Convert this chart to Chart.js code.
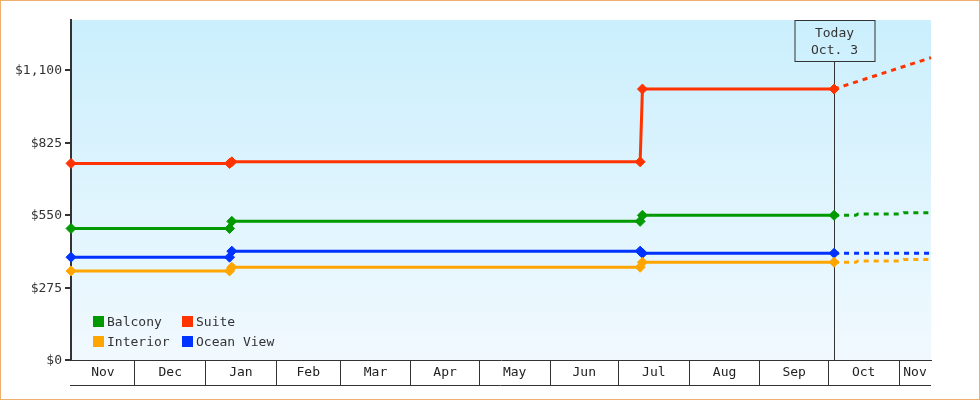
<!DOCTYPE html>
<html>
<head>
<meta charset="utf-8">
<title>Cabin prices</title>
<script src="https://cdn.jsdelivr.net/npm/chart.js@4.4.1/dist/chart.umd.min.js"></script>
<style>
  html, body { margin: 0; padding: 0; background: #fff; }
  #frame { width: 980px; height: 400px; box-sizing: border-box; border: 1px solid #efb06e; }
  canvas { display: block; }
</style>
</head>
<body>
<div id="frame"><canvas id="chart" width="978" height="398"></canvas></div>
<script>
// ---- data ----
const startDate = '2014-11-03';
const endDate = '2015-11-15';
const todayDate = '2015-10-03T12:00';
const todayLines = ['Today', 'Oct. 3'];

const monthLabels = ['Nov', 'Dec', 'Jan', 'Feb', 'Mar', 'Apr', 'May', 'Jun', 'Jul', 'Aug', 'Sep', 'Oct', 'Nov'];
const priceTicks = [0, 275, 550, 825, 1100];
const priceMax = 1290;

// recorded fares (solid part, ends today)
const historyDates = ['2014-11-03', '2015-01-11T12:00', '2015-01-12T12:00', '2015-07-10T12:00', '2015-07-11T12:00', '2015-10-03T12:00'];
const balconyHistory   = [499, 499, 526, 526, 549, 549];
const suiteHistory     = [746, 746, 752, 752, 1028, 1028];
const interiorHistory  = [338, 338, 352, 352, 371, 371];
const oceanViewHistory = [390, 390, 413, 413, 405, 405];

// projected fares (dashed part, after today)
const forecastDates = ['2015-10-13', '2015-10-14', '2015-11-02', '2015-11-03', '2015-11-15'];
const balconyForecast   = [549, 554, 554, 559, 559];
const interiorForecast  = [371, 376, 376, 381, 381];
const oceanViewForecast = [405, 405, 405, 405, 405];
const suiteForecastDates = ['2015-11-15'];
const suiteForecast = [1147];

const seriesNames  = ['Balcony', 'Suite', 'Interior', 'Ocean View'];
const seriesColors = ['#009900', '#ff3300', '#ffa500', '#0033ff'];

// ---- helpers ----
const DAY_MS = 86400000;
const startMs = Date.parse(startDate + 'T00:00:00Z');
function toDay(s) {
  const iso = s.length > 10 ? s + ':00Z' : s + 'T00:00:00Z';
  return (Date.parse(iso) - startMs) / DAY_MS;
}
const endDay = toDay(endDate);
const todayDay = toDay(todayDate);

// month boundaries and label positions (middle of each visible month)
const startD = new Date(startMs);
const monthBounds = [];
for (let i = 1; i < monthLabels.length; i++) {
  monthBounds.push((Date.UTC(startD.getUTCFullYear(), startD.getUTCMonth() + i, 1) - startMs) / DAY_MS);
}
const monthEdges = [0, ...monthBounds, endDay];
const monthMids = monthLabels.map((_, i) => (monthEdges[i] + monthEdges[i + 1]) / 2);

function points(dates, values) {
  return dates.map((d, i) => ({ x: toDay(d), y: values[i] }));
}

const seriesData = [
  points(historyDates.concat(forecastDates), balconyHistory.concat(balconyForecast)),
  points(historyDates.concat(suiteForecastDates), suiteHistory.concat(suiteForecast)),
  points(historyDates.concat(forecastDates), interiorHistory.concat(interiorForecast)),
  points(historyDates.concat(forecastDates), oceanViewHistory.concat(oceanViewForecast)),
];

const FONT = '"DejaVu Sans Mono", monospace';
const INK = '#333';

// ---- plugins ----
const plotBackground = {
  id: 'plotBackground',
  beforeDraw(chart) {
    const { ctx, chartArea: a } = chart;
    const g = ctx.createLinearGradient(0, a.top, 0, a.bottom);
    g.addColorStop(0, '#cbeffd');
    g.addColorStop(1, '#f1f9fe');
    ctx.save();
    ctx.fillStyle = g;
    ctx.fillRect(a.left, a.top, a.right - a.left, a.bottom - a.top);
    ctx.restore();
  }
};

const monthBand = {
  id: 'monthBand',
  afterDraw(chart) {
    const { ctx, chartArea: a } = chart;
    const xs = chart.scales.x;
    const y = Math.round(xs.top + xs.options.grid.tickLength) + 0.5;
    ctx.save();
    ctx.strokeStyle = INK;
    ctx.lineWidth = 1;
    ctx.beginPath();
    ctx.moveTo(a.left - 1, y);
    ctx.lineTo(a.right, y);
    ctx.stroke();
    ctx.restore();
  }
};

const todayMarker = {
  id: 'todayMarker',
  beforeDatasetsDraw(chart) {
    const { ctx, chartArea: a } = chart;
    const x = Math.round(chart.scales.x.getPixelForValue(todayDay)) + 0.5;
    const boxW = 80, boxH = 41;
    const top = a.top + 0.5;
    ctx.save();
    ctx.strokeStyle = INK;
    ctx.lineWidth = 1;
    ctx.beginPath();
    ctx.moveTo(x, top + boxH);
    ctx.lineTo(x, a.bottom);
    ctx.stroke();
    ctx.strokeRect(Math.round(x - boxW / 2), top, boxW, boxH);
    ctx.fillStyle = INK;
    ctx.font = '13px ' + FONT;
    ctx.textAlign = 'center';
    ctx.textBaseline = 'middle';
    ctx.fillText(todayLines[0], x, a.top + 14);
    ctx.fillText(todayLines[1], x, a.top + 31);
    ctx.restore();
  }
};

const cornerLegend = {
  id: 'cornerLegend',
  afterDraw(chart) {
    const { ctx, chartArea: a } = chart;
    ctx.save();
    ctx.font = '13px ' + FONT;
    ctx.textBaseline = 'middle';
    ctx.textAlign = 'left';
    const box = 11;
    const colX = [a.left + 22, a.left + 111];
    const rowY = [a.bottom - 44, a.bottom - 24];
    chart.data.datasets.forEach((ds, i) => {
      const bx = colX[i % 2], by = rowY[Math.floor(i / 2)];
      ctx.fillStyle = ds.borderColor;
      ctx.fillRect(bx, by, box, box);
      ctx.fillStyle = INK;
      ctx.fillText(ds.label, bx + box + 3, by + box / 2 + 1);
    });
    ctx.restore();
  }
};

// ---- chart ----
Chart.defaults.font.family = FONT;
Chart.defaults.font.size = 13;
Chart.defaults.color = INK;

new Chart(document.getElementById('chart'), {
  type: 'line',
  data: {
    datasets: seriesNames.map((name, i) => ({
      label: name,
      data: seriesData[i],
      borderColor: seriesColors[i],
      backgroundColor: seriesColors[i],
      borderWidth: 3,
      fill: false,
      tension: 0,
      clip: false,
      pointStyle: 'rectRot',
      pointRadius: ctx => (ctx.parsed && ctx.parsed.x > todayDay + 1e-6 ? 0 : 5),
      pointBorderWidth: 1,
      pointBorderColor: seriesColors[i],
      pointBackgroundColor: seriesColors[i],
      segment: {
        borderDash: ctx => (ctx.p0.parsed.x >= todayDay - 1e-6 ? [5, 5] : undefined)
      }
    }))
  },
  options: {
    responsive: false,
    animation: false,
    events: [],
    layout: { padding: { top: 19, right: 48, bottom: 13, left: 0 } },
    plugins: {
      legend: { display: false },
      tooltip: { enabled: false }
    },
    scales: {
      x: {
        type: 'linear',
        position: 'bottom',
        min: 0,
        max: endDay,
        afterBuildTicks(scale) {
          scale.ticks = monthBounds.map(v => ({ value: v }))
            .concat(monthMids.map((v, i) => ({ value: v, name: monthLabels[i] })))
            .sort((p, q) => p.value - q.value);
        },
        afterFit(scale) { scale.height = 26; },
        grid: {
          drawOnChartArea: false,
          drawTicks: true,
          tickLength: 25,
          lineWidth: 1,
          color: ctx => (ctx.tick && ctx.tick.name ? 'rgba(0,0,0,0)' : INK),
          tickColor: ctx => (ctx.tick && ctx.tick.name ? 'rgba(0,0,0,0)' : INK)
        },
        border: { display: true, color: INK, width: 1 },
        ticks: {
          autoSkip: false,
          maxRotation: 0,
          minRotation: 0,
          padding: -20,
          color: '#222',
          callback: (v, i, ticks) => ticks[i].name || ''
        }
      },
      y: {
        type: 'linear',
        position: 'left',
        min: 0,
        max: priceMax,
        afterBuildTicks(scale) {
          scale.ticks = priceTicks.map(v => ({ value: v }));
        },
        afterFit(scale) { scale.width = 70; },
        grid: {
          drawOnChartArea: false,
          drawTicks: true,
          tickLength: 6,
          lineWidth: 2,
          color: INK
        },
        border: { display: true, color: INK, width: 2 },
        ticks: {
          padding: 3,
          labelOffset: 1,
          color: INK,
          callback: v => '$' + Number(v).toLocaleString('en-US')
        }
      }
    }
  },
  plugins: [plotBackground, todayMarker, monthBand, cornerLegend]
});
</script>
</body>
</html>
